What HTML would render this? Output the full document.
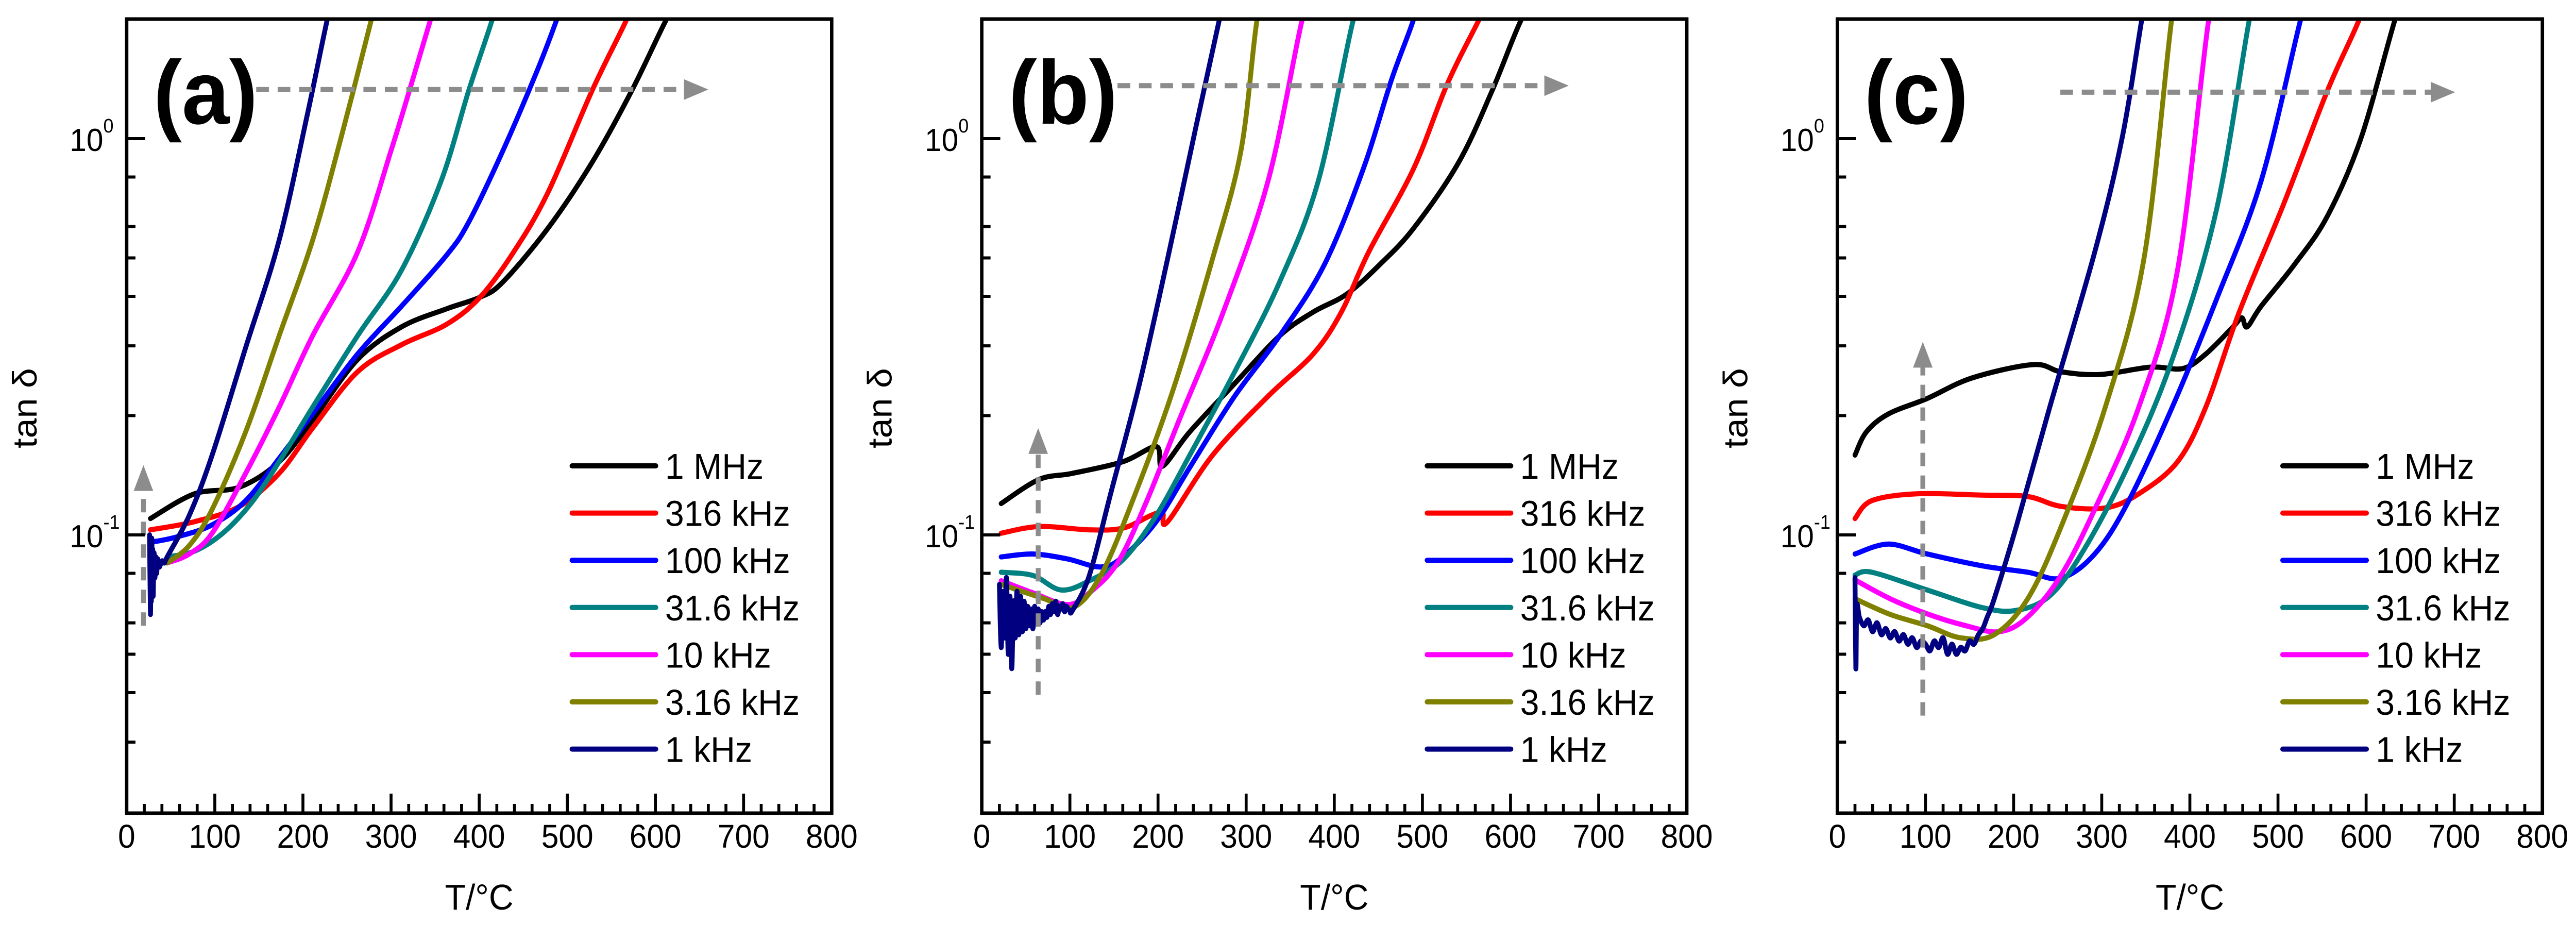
<!DOCTYPE html>
<html><head><meta charset="utf-8"><style>
html,body{margin:0;padding:0;background:#fff;width:100%;height:100%;overflow:hidden;}
svg{display:block;position:absolute;left:0;top:0;width:100vw;height:100vh;font-family:"Liberation Sans",Arial,sans-serif;}
</style></head><body>
<svg id="fig" viewBox="0 0 5287 1826" preserveAspectRatio="none" xmlns="http://www.w3.org/2000/svg" overflow="hidden"></svg>
<script>
// ---- shared axis data ----
const xTicks = [0,100,200,300,400,500,600,700,800];
const yMinor = [0.03,0.04,0.05,0.06,0.08,0.2,0.3,0.4,0.5,0.6,0.8];
const seriesNames = ["1 MHz","316 kHz","100 kHz","31.6 kHz","10 kHz","3.16 kHz","1 kHz"];
const seriesColors = ["#000000","#ff0000","#0000ff","#008080","#ff00ff","#808000","#000080"];
const panelLabels = ["(a)","(b)","(c)"];

// ---- panel (a) ----
const a_1MHz_T=[27,77,128,173,211,262,312,363,401,427,478,528,573,611,640];
const a_1MHz_V=[0.110,0.127,0.132,0.153,0.195,0.277,0.335,0.372,0.398,0.435,0.594,0.87,1.32,1.97,2.6];
const a_316k_T=[27,77,128,173,211,262,312,363,401,439,478,528,566,590];
const a_316k_V=[0.103,0.108,0.118,0.143,0.186,0.258,0.302,0.34,0.398,0.517,0.731,1.32,1.97,2.6];
const a_100k_T=[30,58,97,135,173,211,262,312,363,388,427,465,487,505];
const a_100k_V=[0.096,0.099,0.106,0.122,0.156,0.202,0.286,0.378,0.508,0.615,0.933,1.47,1.97,2.6];
const a_31k_T=[46,77,109,141,173,211,262,312,357,388,414,430];
const a_31k_V=[0.088,0.091,0.101,0.12,0.153,0.21,0.318,0.466,0.784,1.32,1.97,2.6];
const a_10k_T=[46,71,97,135,173,211,262,300,325,344,360];
const a_10k_V=[0.085,0.0895,0.101,0.143,0.21,0.318,0.517,0.933,1.42,1.97,2.6];
const a_3k_T=[46,71,97,135,173,211,243,277,290];
const a_3k_V=[0.085,0.094,0.116,0.182,0.318,0.554,1.0,1.97,2.6];
const a_1k_T=[26,27,27.5,28,28.5,29,29.5,30,31,32,33,34,35,37,40,43,46,71,97,135,173,205,227,240];
const a_1k_V=[0.1,0.063,0.095,0.068,0.098,0.075,0.092,0.07,0.09,0.078,0.088,0.08,0.087,0.083,0.086,0.085,0.088,0.112,0.159,0.297,0.554,1.15,1.97,2.6];

// ---- panel (b) ----
const b_1MHz_T=[22,65,103,160,198,205,236,287,338,376,414,452,490,541,579,611,640];
const b_1MHz_V=[0.120,0.138,0.143,0.153,0.167,0.149,0.182,0.241,0.318,0.365,0.405,0.482,0.594,0.87,1.32,1.97,2.6];
const b_316k_T=[22,65,122,160,192,205,211,262,325,376,408,439,490,528,563,590];
const b_316k_V=[0.101,0.105,0.103,0.104,0.112,0.114,0.108,0.159,0.224,0.286,0.365,0.517,0.84,1.37,1.97,2.6];
const b_100k_T=[22,58,97,135,160,198,236,287,338,389,433,465,489,505];
const b_100k_V=[0.088,0.0895,0.087,0.083,0.088,0.108,0.148,0.224,0.318,0.482,0.84,1.41,1.97,2.6];
const b_31k_T=[22,58,90,122,160,198,236,287,338,382,421,440];
const b_31k_V=[0.0805,0.079,0.0726,0.0766,0.0865,0.112,0.159,0.258,0.435,0.784,1.97,2.6];
const b_10k_T=[22,58,97,122,154,186,224,274,325,363,380];
const b_10k_V=[0.0766,0.0714,0.0667,0.0714,0.085,0.12,0.195,0.365,0.784,1.97,2.6];
const b_3k_T=[22,71,103,135,173,217,262,294,312,325];
const b_3k_V=[0.075,0.069,0.0655,0.079,0.125,0.232,0.499,0.93,1.97,2.6];
const b_1k_T=[20,22,24,26,28,30,32,34,36,38,40,42,44,46,48,50,52,54,56,58,60,62,64,66,68,70,72,74,76,78,80,82,84,86,88,90,92,94,96,98,100,103,122,147,179,211,243,269,280];
const b_1k_V=[0.075,0.052,0.072,0.055,0.078,0.05,0.07,0.046,0.068,0.055,0.072,0.056,0.07,0.057,0.068,0.058,0.066,0.059,0.065,0.058,0.066,0.06,0.065,0.06,0.064,0.061,0.064,0.062,0.066,0.063,0.067,0.064,0.068,0.063,0.066,0.065,0.067,0.064,0.066,0.065,0.0645,0.0645,0.079,0.129,0.241,0.499,1.07,1.97,2.6];

// ---- panel (c) ----
const c_1MHz_T=[20,33,58,102,153,222,254,298,355,392,418,449,459,465,481,519,556,594,632,650];
const c_1MHz_V=[0.159,0.182,0.202,0.221,0.249,0.269,0.258,0.254,0.265,0.263,0.286,0.335,0.353,0.335,0.378,0.482,0.637,1.0,1.97,2.6];
const c_316k_T=[20,39,90,165,216,254,304,342,386,418,456,506,556,591,610];
const c_316k_V=[0.110,0.122,0.127,0.126,0.125,0.118,0.117,0.127,0.153,0.21,0.365,0.68,1.32,1.97,2.6];
const c_100k_T=[20,58,102,165,216,254,292,329,380,430,481,525,540];
const c_100k_V=[0.0895,0.0948,0.0895,0.0835,0.0805,0.0778,0.0895,0.12,0.21,0.392,0.784,1.97,2.6];
const c_31k_T=[20,39,102,165,203,241,279,329,380,430,467,480];
const c_31k_V=[0.0792,0.0805,0.0726,0.0655,0.0645,0.0702,0.0911,0.148,0.277,0.659,1.97,2.6];
const c_10k_T=[20,60,102,146,184,216,254,292,342,386,421,435];
const c_10k_V=[0.077,0.069,0.0632,0.059,0.057,0.0621,0.0792,0.116,0.21,0.466,1.97,2.6];
const c_3k_T=[20,60,102,140,178,216,254,304,348,379,390];
const c_3k_V=[0.069,0.063,0.059,0.055,0.056,0.069,0.105,0.21,0.499,1.97,2.6];
const c_1k_T=[20,21,22,25,30,35,40,45,50,55,60,65,70,75,80,85,90,95,100,105,110,115,120,125,130,135,140,145,150,155,160,165,170,178,203,241,292,323,345,355];
const c_1k_V=[0.078,0.046,0.066,0.062,0.059,0.061,0.057,0.06,0.056,0.058,0.055,0.057,0.054,0.056,0.053,0.055,0.052,0.054,0.053,0.051,0.054,0.052,0.055,0.05,0.053,0.05,0.052,0.051,0.054,0.053,0.056,0.058,0.062,0.069,0.105,0.21,0.517,1.0,1.97,2.6];

// ---- annotation arrows (data coords) ----
const arrowH_T0=[147,154,253], arrowH_T1=[660,666,701], arrowH_V=[1.33,1.36,1.31];
const arrowV_T=[19,64,97], arrowV_V0=[0.059,0.0395,0.035], arrowV_V1=[0.15,0.186,0.307];

const panels=[
 {T:[a_1MHz_T,a_316k_T,a_100k_T,a_31k_T,a_10k_T,a_3k_T,a_1k_T],V:[a_1MHz_V,a_316k_V,a_100k_V,a_31k_V,a_10k_V,a_3k_V,a_1k_V]},
 {T:[b_1MHz_T,b_316k_T,b_100k_T,b_31k_T,b_10k_T,b_3k_T,b_1k_T],V:[b_1MHz_V,b_316k_V,b_100k_V,b_31k_V,b_10k_V,b_3k_V,b_1k_V]},
 {T:[c_1MHz_T,c_316k_T,c_100k_T,c_31k_T,c_10k_T,c_3k_T,c_1k_T],V:[c_1MHz_V,c_316k_V,c_100k_V,c_31k_V,c_10k_V,c_3k_V,c_1k_V]}
];

const NS="http://www.w3.org/2000/svg";
const svg=document.getElementById('fig');
const LEFTS=[260,2015,3771], PW=1447, TOP=37, BOT=1578;
const Y1=269, DEC=769;
function mk(tag,attrs,parent){const e=document.createElementNS(NS,tag);for(const k in attrs)e.setAttribute(k,attrs[k]);(parent||svg).appendChild(e);return e;}
function smoothPath(P){
  if(P.length<3) return 'M'+P.map(p=>p[0].toFixed(1)+','+p[1].toFixed(1)).join('L');
  let d='M'+P[0][0].toFixed(1)+','+P[0][1].toFixed(1);
  for(let i=0;i<P.length-1;i++){
    const p0=P[Math.max(0,i-1)],p1=P[i],p2=P[i+1],p3=P[Math.min(P.length-1,i+2)];
    const c1x=p1[0]+(p2[0]-p0[0])/6,c1y=p1[1]+(p2[1]-p0[1])/6;
    const c2x=p2[0]-(p3[0]-p1[0])/6,c2y=p2[1]-(p3[1]-p1[1])/6;
    d+=`C${c1x.toFixed(1)},${c1y.toFixed(1)} ${c2x.toFixed(1)},${c2y.toFixed(1)} ${p2[0].toFixed(1)},${p2[1].toFixed(1)}`;
  }
  return d;
}

const defs=mk('defs',{});
panels.forEach((p,pi)=>{
  const L=LEFTS[pi];
  const xs=t=>L+t/800*PW;
  const ys=v=>Y1-Math.log10(v)*DEC;
  const g=mk('g',{});
  
  
  const cp=mk('clipPath',{id:'clip'+pi},defs);
  mk('rect',{x:L,y:TOP,width:PW,height:BOT-TOP},cp);
  const sg=mk('g',{'clip-path':'url(#clip'+pi+')'},g);
  p.T.forEach((Ts,si)=>{
    const P=Ts.map((t,i)=>[xs(t),ys(p.V[si][i])]);
    const pl=mk('path',{d:smoothPath(P),fill:'none',stroke:seriesColors[si],'stroke-width':10,'stroke-linejoin':'round','stroke-linecap':'round'},sg);
    
    
  });
  const ag=mk('g',{},g);
  
  
  const hy=ys(arrowH_V[pi]), hx0=xs(arrowH_T0[pi]), hx1=xs(arrowH_T1[pi]);
  mk('line',{x1:hx0,y1:hy,x2:hx1-40,y2:hy,stroke:'#8c8c8c','stroke-width':10,'stroke-dasharray':'26,18'},ag);
  mk('polygon',{points:`${hx1},${hy} ${hx1-50},${hy-20} ${hx1-50},${hy+20}`,fill:'#8c8c8c'},ag);
  const vx=xs(arrowV_T[pi]), vy0=ys(arrowV_V0[pi]), vy1=ys(arrowV_V1[pi]);
  mk('line',{x1:vx,y1:vy0,x2:vx,y2:vy1+40,stroke:'#8c8c8c','stroke-width':10,'stroke-dasharray':'26,18'},ag);
  mk('polygon',{points:`${vx},${vy1} ${vx-20},${vy1+50} ${vx+20},${vy1+50}`,fill:'#8c8c8c'},ag);
  const fr=mk('rect',{x:L,y:TOP,width:PW,height:BOT-TOP,fill:'none',stroke:'#000','stroke-width':7},g);
  
  
  for(let t=20;t<800;t+=20){
    const major=t%100===0; const x=xs(t);
    mk('line',{x1:x,y1:BOT,x2:x,y2:BOT-(major?38:18),stroke:'#000','stroke-width':6},g);
  }
  xTicks.forEach(t=>{
    const tx=mk('text',{x:xs(t),y:1645,'font-size':64,'text-anchor':'middle',fill:'#000'},g);
    tx.textContent=t;
    
    
  });
  [1,0.1].forEach(v=>mk('line',{x1:L,y1:ys(v),x2:L+38,y2:ys(v),stroke:'#000','stroke-width':6},g));
  yMinor.forEach(v=>mk('line',{x1:L,y1:ys(v),x2:L+18,y2:ys(v),stroke:'#000','stroke-width':6},g));
  [[1,'0'],[0.1,'-1']].forEach(([v,e])=>{
    const tx=mk('text',{x:L-48,y:ys(v)+24,'font-size':62,'text-anchor':'end',fill:'#000'},g);
    tx.textContent='10';
    
    
    const sp=mk('text',{x:L-48,y:ys(v)-12,'font-size':38,'text-anchor':'start',fill:'#000'},g);
    sp.textContent=e;
    
    
  });
  const xt=mk('text',{x:L+PW/2,y:1765,'font-size':70,'text-anchor':'middle',fill:'#000'},g);
  xt.textContent='T/°C';
  
  
  const yt=mk('text',{x:0,y:0,'font-size':70,'text-anchor':'middle',fill:'#000',transform:`translate(${L-185},792) rotate(-90)`},g);
  yt.textContent='tan δ';
  
  
  const pl=mk('text',{x:L+55,y:240,'font-size':175,'font-weight':'bold',fill:'#000'},g);
  pl.textContent=panelLabels[pi];
  
  
  const lg=mk('g',{},g);
  
  
  seriesNames.forEach((n,si)=>{
    const y=904+si*91.6;
    const e=mk('g',{},lg);
    
    
    mk('line',{x1:L+914,y1:y,x2:L+1086,y2:y,stroke:seriesColors[si],'stroke-width':10,'stroke-linecap':'round'},e);
    const t=mk('text',{x:L+1105,y:y+25,'font-size':70,fill:'#000'},e);
    t.textContent=n;
  });
});
</script>
</body></html>
